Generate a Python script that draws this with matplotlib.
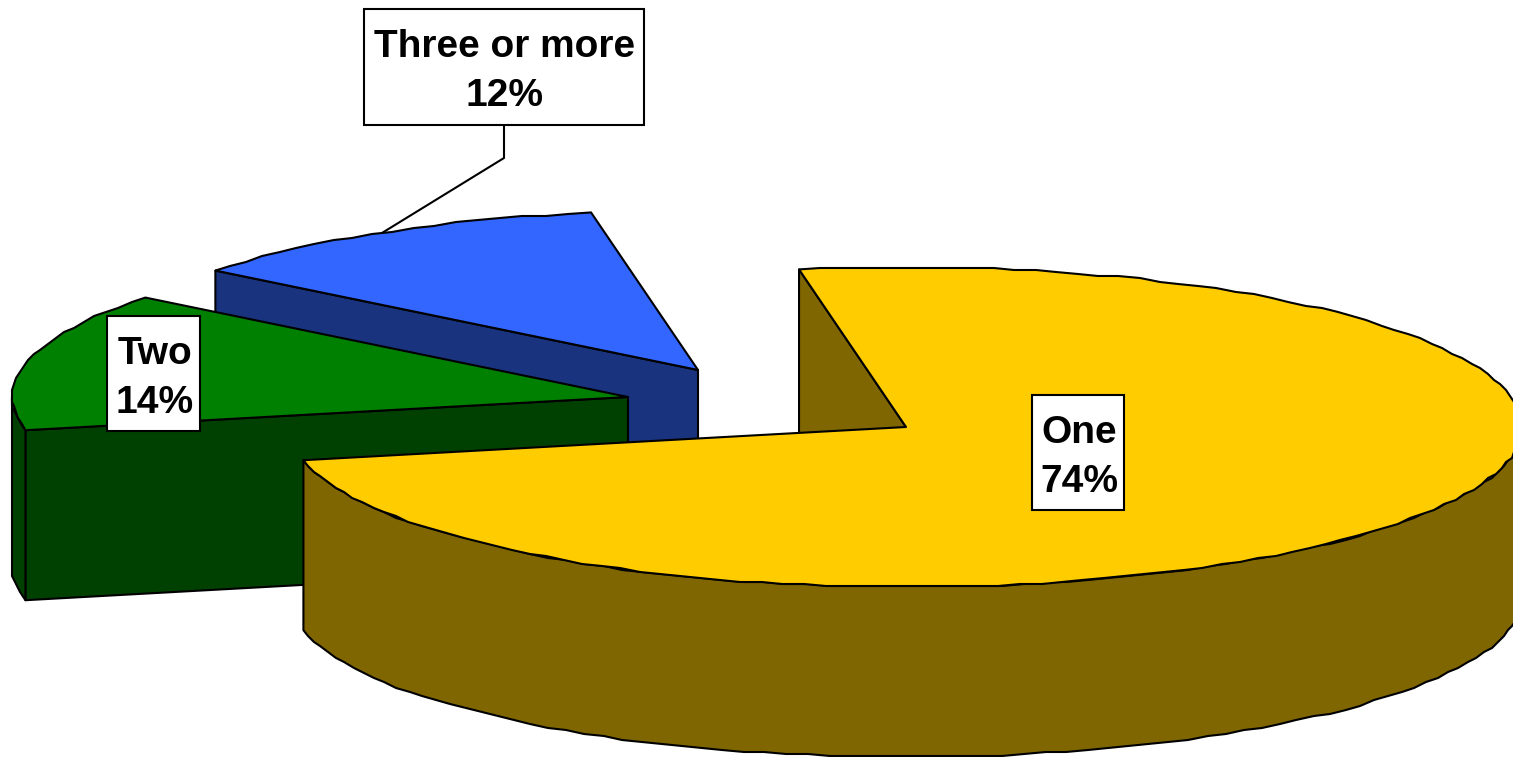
import numpy as np
import matplotlib
matplotlib.use('Agg')
from matplotlib import pyplot as plt
from matplotlib.patches import Polygon, Rectangle

categories = ['One', 'Two', 'Three or more']
shares = [74.45, 14.0, 11.55]
face_colors = ['#FFCC00', '#008000', '#3366FF']
side_colors = ['#7F6600', '#004000', '#19337F']

# layout, in pixels of the 1513x757 picture
centers = [(906, 427), (628, 397), (698, 370)]
box_rects = [(1032, 395, 92, 115), (107, 316, 93, 115), (364, 9, 280, 116)]
start_angle = 100.0
rx = 616
ry = 160
depth = 170
lw = 1.5
grid = 2  # 边缘取整的像素格，模仿原图的锯齿

plt.rcParams['font.family'] = ['Liberation Sans', 'DejaVu Sans']

fig = plt.figure(figsize=(15.13, 7.57), dpi=100)
ax = fig.add_axes([0, 0, 1, 1])
ax.set_xlim(0, 1513)
ax.set_ylim(757, 0)
ax.axis('off')


def rim(cx, cy, a0, a1):
    n = max(int(abs(a1 - a0) / 2.0), 2)
    t = np.radians(np.linspace(a0, a1, n))
    pts = np.column_stack([cx + rx * np.cos(t), cy - ry * np.sin(t)])
    # 中间点取整，两端保持精确
    pts[1:-1] = np.round(pts[1:-1] / grid) * grid
    return pts


def poly(pts, color, z):
    ax.add_patch(Polygon(pts, closed=True, facecolor=color, edgecolor='k',
                         linewidth=lw, joinstyle='round', zorder=z))


def faces_front(a, is_start):
    # a wall shows only if it turns towards the viewer
    c = np.cos(np.radians(a))
    return c < 0 if is_start else c > 0


# slice angles go clockwise from the start angle
sweeps = np.array(shares) / sum(shares) * 360
starts = start_angle - np.concatenate([[0], np.cumsum(sweeps)[:-1]])
ends = starts - sweeps

# back to front: Three or more, Two, One
for z, i in enumerate([2, 1, 0]):
    cx, cy = centers[i]
    a0, a1 = starts[i], ends[i]
    z0 = 10 * (z + 1)
    down = np.array([0, depth])
    c = np.array([cx, cy], dtype=float)

    # 两个切面
    for a, is_start in ((a0, True), (a1, False)):
        if faces_front(a, is_start):
            p = np.array([cx + rx * np.cos(np.radians(a)), cy - ry * np.sin(np.radians(a))])
            poly([c, p, p + down, c + down], side_colors[i], z0)

    # 外侧面，只画朝前的部分 (180 ~ 360 度)
    for k in range(-2, 2):
        lo = max(a1, -180 + 360 * k)
        hi = min(a0, 360 * k)
        if hi > lo:
            arc = rim(cx, cy, hi, lo)
            poly(np.vstack([arc, arc[::-1] + down]), side_colors[i], z0 + 1)

    # 顶面
    poly(np.vstack([[c], rim(cx, cy, a0, a1)]), face_colors[i], z0 + 2)

# leader line of the small slice, ends at the middle of its rim
bx, by, bw, bh = box_rects[2]
leader_x = bx + bw / 2
rim_t = np.radians(starts[2] - sweeps[2] * 0.5)
ax.plot([leader_x, leader_x, centers[2][0] + rx * np.cos(rim_t)],
        [by + bh, by + bh + 33, centers[2][1] - ry * np.sin(rim_t)],
        color='k', linewidth=1.5, zorder=50)

# labels
for i in range(len(categories)):
    bx, by, bw, bh = box_rects[i]
    ax.add_patch(Rectangle((bx, by), bw, bh, facecolor='white', edgecolor='k',
                           linewidth=1.5, zorder=60))
    ax.text(bx + bw / 2 + 1, by + 48, categories[i], fontsize=28, fontweight='bold',
            ha='center', va='baseline', zorder=61)
    ax.text(bx + bw / 2 + 1, by + 97, f'{round(shares[i])}%', fontsize=28, fontweight='bold',
            ha='center', va='baseline', zorder=61)

fig.savefig('out.png', dpi=100)
